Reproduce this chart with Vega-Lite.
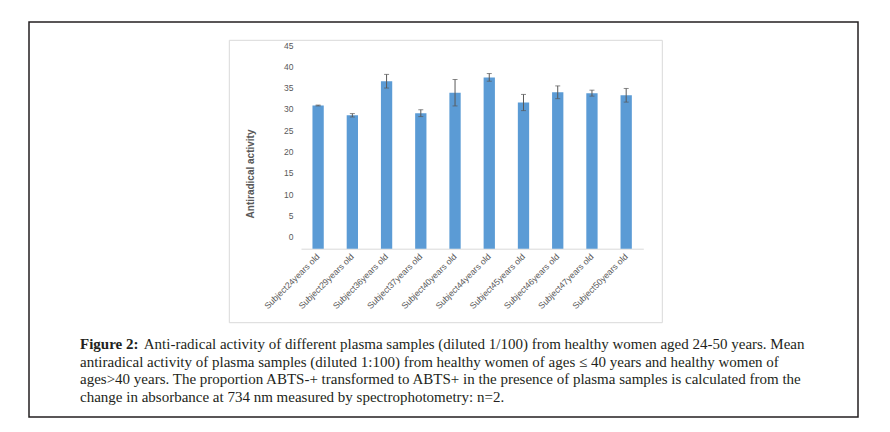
{
  "$schema": "https://vega.github.io/schema/vega-lite/v6.json",
  "width": 829,
  "height": 395,
  "autosize": {"type": "none"},
  "padding": {"left": 29, "top": 22, "right": 3, "bottom": 3},
  "background": "white",
  "config": {"view": {"stroke": "#231F20", "strokeWidth": 1.5}},
  "title": {
    "text": "Figure 2:",
    "subtitle": [
      "\u200b\u00a0\u00a0\u00a0\u00a0\u00a0\u00a0\u00a0\u00a0\u00a0\u00a0\u00a0\u00a0\u00a0\u00a0\u00a0\u00a0\u00a0Anti-radical activity of different plasma samples (diluted 1/100) from healthy women aged 24-50 years. Mean",
      "antiradical activity of plasma samples (diluted 1:100) from healthy women of ages \u2264 40 years and healthy women of",
      "ages>40 years. The proportion ABTS-+ transformed to ABTS+ in the presence of plasma samples is calculated from the",
      "change in absorbance at 734 nm measured by spectrophotometry: n=2."
    ],
    "orient": "bottom",
    "anchor": "start",
    "frame": "group",
    "offset": -80,
    "dx": 51,
    "font": "Liberation Serif",
    "fontSize": 15,
    "fontWeight": "bold",
    "color": "#231F20",
    "subtitleFont": "Liberation Serif",
    "subtitleFontSize": 15,
    "subtitleFontWeight": "normal",
    "subtitleColor": "#231F20",
    "subtitleLineHeight": 17.5,
    "subtitlePadding": -15
  },
  "layer": [
    {
      "data": {"values": [{"frame": "chart area"}]},
      "mark": {"type": "rect", "filled": false, "stroke": "#D9D9D9", "strokeWidth": 1},
      "encoding": {
        "x": {"datum": 0, "type": "quantitative", "scale": {"domain": [0, 1], "range": [200.3, 633.3], "nice": false, "zero": false}, "axis": null},
        "x2": {"datum": 1},
        "y": {"datum": 0, "type": "quantitative", "scale": {"domain": [0, 1], "range": [300.7, 18.3], "nice": false, "zero": false}, "axis": null},
        "y2": {"datum": 1}
      }
    },
    {
      "data": {
        "values": [
          {"subject": "Subject24years old", "activity": 30.8, "err": 0.1},
          {"subject": "Subject29years old", "activity": 28.5, "err": 0.4},
          {"subject": "Subject36years old", "activity": 36.5, "err": 1.6},
          {"subject": "Subject37years old", "activity": 29.0, "err": 0.8},
          {"subject": "Subject40years old", "activity": 33.8, "err": 3.1},
          {"subject": "Subject44years old", "activity": 37.4, "err": 0.9},
          {"subject": "Subject45years old", "activity": 31.5, "err": 1.9},
          {"subject": "Subject46years old", "activity": 33.9, "err": 1.5},
          {"subject": "Subject47years old", "activity": 33.7, "err": 0.7},
          {"subject": "Subject50years old", "activity": 33.2, "err": 1.6}
        ]
      },
      "encoding": {
        "x": {
          "field": "subject",
          "type": "nominal",
          "sort": null,
          "scale": {"range": [272, 614.3], "paddingInner": 0.67, "paddingOuter": 0.335},
          "axis": {
            "title": null,
            "offset": -168.3,
            "ticks": false,
            "domainColor": "#D9D9D9",
            "domainWidth": 1,
            "labelAngle": -45,
            "labelAlign": "right",
            "labelBaseline": "middle",
            "labelPadding": 6,
            "labelFont": "Liberation Sans",
            "labelFontSize": 8.7,
            "labelColor": "#595959"
          }
        }
      },
      "layer": [
        {
          "mark": {"type": "bar", "color": "#5B9BD5"},
          "encoding": {
            "y": {
              "field": "activity",
              "type": "quantitative",
              "title": "Antiradical activity",
              "scale": {"domain": [-2.81, 45], "range": [226.7, 23], "nice": false, "zero": false},
              "axis": {
                "values": [0, 5, 10, 15, 20, 25, 30, 35, 40, 45],
                "offset": -268,
                "domain": false,
                "ticks": false,
                "grid": false,
                "labelPadding": 4,
                "labelFont": "Liberation Sans",
                "labelFontSize": 8.5,
                "labelColor": "#595959",
                "titleFont": "Liberation Sans",
                "titleFontSize": 10,
                "titleFontWeight": "bold",
                "titleColor": "#595959",
                "titlePadding": 28,
                "titleY": 151.5
              }
            },
            "y2": {"datum": -2.81}
          }
        },
        {
          "mark": {"type": "errorbar", "color": "#595959", "ticks": {"size": 5}, "rule": {"strokeWidth": 1}},
          "encoding": {
            "y": {"field": "activity", "type": "quantitative", "title": "Antiradical activity"},
            "yError": {"field": "err"}
          }
        }
      ]
    }
  ],
  "resolve": {"scale": {"x": "independent", "y": "independent"}}
}
